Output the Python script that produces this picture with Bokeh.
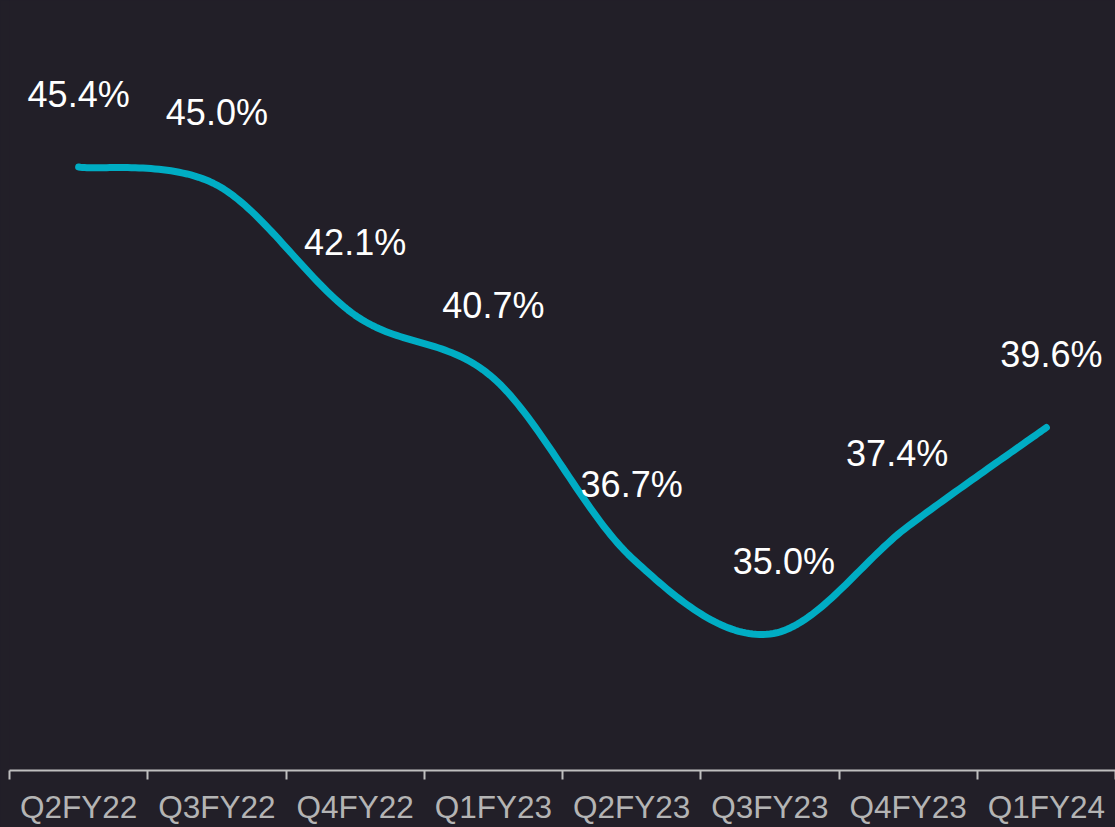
import numpy as np
from bokeh.plotting import figure
from bokeh.models import ColumnDataSource, FixedTicker, Range1d
from bokeh.core.properties import value
from bokeh.embed import file_html
from bokeh.resources import INLINE

quarters = ["Q2FY22", "Q3FY22", "Q4FY22", "Q1FY23", "Q2FY23", "Q3FY23", "Q4FY23", "Q1FY24"]
margin_pct = [45.4, 45.0, 42.1, 40.7, 36.7, 35.0, 37.4, 39.6]
labels = [f"{v:.1f}%" for v in margin_pct]

BG = "#221f28"
LINE = "#00adc4"
AXIS = "#bfbfbf"
# small horizontal nudges (screen px) of the data labels, as in the original
LABEL_NUDGE = [0, 0, 0, 0, 0, 14, -11, 5]

xs = np.arange(len(quarters)) + 0.5
ys = np.array(margin_pct)

# Smoothed line (Bezier through the data points, like a spreadsheet "smoothed line")
def smooth(xp, yp, n=40):
    px, py = [], []
    m = len(xp)
    for i in range(m - 1):
        x0, y0 = xp[i], yp[i]
        x3, y3 = xp[i + 1], yp[i + 1]
        xm, ym = (xp[i - 1], yp[i - 1]) if i > 0 else (x0, y0)
        xn, yn = (xp[i + 2], yp[i + 2]) if i + 2 < m else (x3, y3)
        x1, y1 = x0 + (x3 - xm) / 6, y0 + (y3 - ym) / 6
        x2, y2 = x3 - (xn - x0) / 6, y3 - (yn - y0) / 6
        t = np.linspace(0, 1, n, endpoint=(i == m - 2))
        a, b, c, d = (1 - t) ** 3, 3 * (1 - t) ** 2 * t, 3 * (1 - t) * t ** 2, t ** 3
        px.extend(a * x0 + b * x1 + c * x2 + d * x3)
        py.extend(a * y0 + b * y1 + c * y2 + d * y3)
    return px, py

sx, sy = smooth(xs, ys)

p = figure(width=1115, height=827, output_backend="svg", toolbar_location=None,
           y_axis_location=None,
           x_range=Range1d(0, len(quarters)), y_range=Range1d(31.96, 49.11),
           min_border_left=9, min_border_right=0, min_border_top=0, min_border_bottom=55)
p.background_fill_color = BG
p.border_fill_color = BG
p.outline_line_color = None
p.grid.visible = False
p.styles = {"background-color": BG}

p.line(sx, sy, line_color=LINE, line_width=7, line_cap="round", line_join="round")

src = ColumnDataSource(dict(x=xs, y=ys, t=labels, dx=LABEL_NUDGE))
p.text("x", "y", text="t", source=src, text_color="white", text_font=value("Liberation Sans"),
       text_font_size="36px", text_align="center", text_baseline="middle",
       x_offset="dx", y_offset=-73)

ax = p.xaxis[0]
ax.ticker = FixedTicker(ticks=list(xs), minor_ticks=list(range(len(quarters) + 1)))
ax.major_label_overrides = {float(x): q for x, q in zip(xs, quarters)}
ax.major_tick_line_color = None
ax.minor_tick_line_color = AXIS
ax.minor_tick_line_width = 2
ax.minor_tick_in = 0
ax.minor_tick_out = 9
ax.axis_line_color = AXIS
ax.axis_line_width = 2
ax.major_label_text_color = "#b4b4b4"
ax.major_label_text_font = "Liberation Sans"
ax.major_label_text_font_size = "31.5px"
ax.major_label_standoff = 9

html = file_html(p, INLINE)
html = html.replace("</head>", f"<style>html, body {{ margin: 0; background: {BG}; }}</style></head>", 1)
open("out.html", "w").write(html)
